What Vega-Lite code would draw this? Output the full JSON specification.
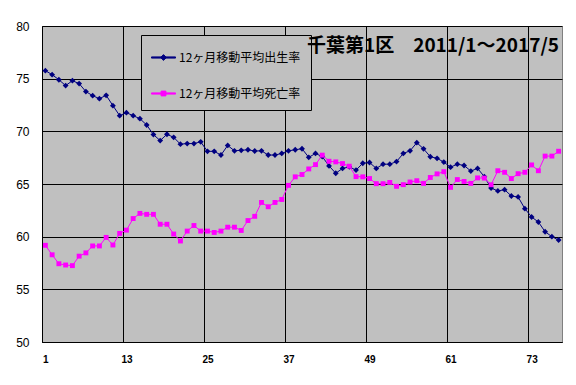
{
  "$schema": "https://vega.github.io/schema/vega-lite/v6.json",
  "width": 520,
  "height": 316,
  "autosize": {"type": "none"},
  "padding": {"left": 42, "top": 26, "right": 14, "bottom": 43},
  "background": "#ffffff",
  "title": {
    "text": "千葉第1区　2011/1～2017/5",
    "anchor": "end",
    "orient": "top",
    "offset": -29,
    "baseline": "alphabetic",
    "font": "Noto Sans CJK JP",
    "fontSize": 19,
    "fontWeight": "bold",
    "color": "#000000",
    "dx": -3,
    "dy": 22
  },
  "config": {
    "view": {"fill": "#c0c0c0", "stroke": "#808080", "strokeWidth": 1},
    "axis": {
      "gridColor": "#000000",
      "gridOpacity": 1,
      "gridWidth": 1,
      "domainColor": "#000000",
      "domainWidth": 1,
      "ticks": false,
      "labelColor": "#000000",
      "labelFont": "Liberation Sans",
      "title": null
    }
  },
  "data": {
    "values": [
      {"m":1,"s":"12ヶ月移動平均出生率","v":75.76},{"m":2,"s":"12ヶ月移動平均出生率","v":75.38},{"m":3,"s":"12ヶ月移動平均出生率","v":74.9},{"m":4,"s":"12ヶ月移動平均出生率","v":74.34},{"m":5,"s":"12ヶ月移動平均出生率","v":74.81},{"m":6,"s":"12ヶ月移動平均出生率","v":74.53},{"m":7,"s":"12ヶ月移動平均出生率","v":73.77},{"m":8,"s":"12ヶ月移動平均出生率","v":73.39},{"m":9,"s":"12ヶ月移動平均出生率","v":73.1},{"m":10,"s":"12ヶ月移動平均出生率","v":73.42},
      {"m":11,"s":"12ヶ月移動平均出生率","v":72.44},{"m":12,"s":"12ヶ月移動平均出生率","v":71.49},{"m":13,"s":"12ヶ月移動平均出生率","v":71.77},{"m":14,"s":"12ヶ月移動平均出生率","v":71.49},{"m":15,"s":"12ヶ月移動平均出生率","v":71.2},{"m":16,"s":"12ヶ月移動平均出生率","v":70.6},{"m":17,"s":"12ヶ月移動平均出生率","v":69.69},{"m":18,"s":"12ヶ月移動平均出生率","v":69.12},{"m":19,"s":"12ヶ月移動平均出生率","v":69.72},{"m":20,"s":"12ヶ月移動平均出生率","v":69.43},
      {"m":21,"s":"12ヶ月移動平均出生率","v":68.78},{"m":22,"s":"12ヶ月移動平均出生率","v":68.84},{"m":23,"s":"12ヶ月移動平均出生率","v":68.84},{"m":24,"s":"12ヶ月移動平均出生率","v":69.0},{"m":25,"s":"12ヶ月移動平均出生率","v":68.1},{"m":26,"s":"12ヶ月移動平均出生率","v":68.1},{"m":27,"s":"12ヶ月移動平均出生率","v":67.75},{"m":28,"s":"12ヶ月移動平均出生率","v":68.66},{"m":29,"s":"12ヶ月移動平均出生率","v":68.15},{"m":30,"s":"12ヶ月移動平均出生率","v":68.2},
      {"m":31,"s":"12ヶ月移動平均出生率","v":68.25},{"m":32,"s":"12ヶ月移動平均出生率","v":68.13},{"m":33,"s":"12ヶ月移動平均出生率","v":68.15},{"m":34,"s":"12ヶ月移動平均出生率","v":67.75},{"m":35,"s":"12ヶ月移動平均出生率","v":67.75},{"m":36,"s":"12ヶ月移動平均出生率","v":67.9},{"m":37,"s":"12ヶ月移動平均出生率","v":68.15},{"m":38,"s":"12ヶ月移動平均出生率","v":68.25},{"m":39,"s":"12ヶ月移動平均出生率","v":68.35},{"m":40,"s":"12ヶ月移動平均出生率","v":67.53},
      {"m":41,"s":"12ヶ月移動平均出生率","v":67.9},{"m":42,"s":"12ヶ月移動平均出生率","v":67.6},{"m":43,"s":"12ヶ月移動平均出生率","v":66.72},{"m":44,"s":"12ヶ月移動平均出生率","v":66.02},{"m":45,"s":"12ヶ月移動平均出生率","v":66.48},{"m":46,"s":"12ヶ月移動平均出生率","v":66.63},{"m":47,"s":"12ヶ月移動平均出生率","v":66.32},{"m":48,"s":"12ヶ月移動平均出生率","v":66.97},{"m":49,"s":"12ヶ月移動平均出生率","v":67.04},{"m":50,"s":"12ヶ月移動平均出生率","v":66.48},
      {"m":51,"s":"12ヶ月移動平均出生率","v":66.88},{"m":52,"s":"12ヶ月移動平均出生率","v":66.88},{"m":53,"s":"12ヶ月移動平均出生率","v":67.13},{"m":54,"s":"12ヶ月移動平均出生率","v":67.9},{"m":55,"s":"12ヶ月移動平均出生率","v":68.15},{"m":56,"s":"12ヶ月移動平均出生率","v":68.92},{"m":57,"s":"12ヶ月移動平均出生率","v":68.34},{"m":58,"s":"12ヶ月移動平均出生率","v":67.59},{"m":59,"s":"12ヶ月移動平均出生率","v":67.44},{"m":60,"s":"12ヶ月移動平均出生率","v":67.08},
      {"m":61,"s":"12ヶ月移動平均出生率","v":66.6},{"m":62,"s":"12ヶ月移動平均出生率","v":66.88},{"m":63,"s":"12ヶ月移動平均出生率","v":66.76},{"m":64,"s":"12ヶ月移動平均出生率","v":66.23},{"m":65,"s":"12ヶ月移動平均出生率","v":66.48},{"m":66,"s":"12ヶ月移動平均出生率","v":65.7},{"m":67,"s":"12ヶ月移動平均出生率","v":64.62},{"m":68,"s":"12ヶ月移動平均出生率","v":64.34},{"m":69,"s":"12ヶ月移動平均出生率","v":64.46},{"m":70,"s":"12ヶ月移動平均出生率","v":63.86},
      {"m":71,"s":"12ヶ月移動平均出生率","v":63.77},{"m":72,"s":"12ヶ月移動平均出生率","v":62.66},{"m":73,"s":"12ヶ月移動平均出生率","v":61.87},{"m":74,"s":"12ヶ月移動平均出生率","v":61.39},{"m":75,"s":"12ヶ月移動平均出生率","v":60.47},{"m":76,"s":"12ヶ月移動平均出生率","v":60.0},{"m":77,"s":"12ヶ月移動平均出生率","v":59.68},
      {"m":1,"s":"12ヶ月移動平均死亡率","v":59.18},{"m":2,"s":"12ヶ月移動平均死亡率","v":58.28},{"m":3,"s":"12ヶ月移動平均死亡率","v":57.43},{"m":4,"s":"12ヶ月移動平均死亡率","v":57.31},{"m":5,"s":"12ヶ月移動平均死亡率","v":57.25},{"m":6,"s":"12ヶ月移動平均死亡率","v":58.15},{"m":7,"s":"12ヶ月移動平均死亡率","v":58.46},{"m":8,"s":"12ヶ月移動平均死亡率","v":59.12},{"m":9,"s":"12ヶ月移動平均死亡率","v":59.12},{"m":10,"s":"12ヶ月移動平均死亡率","v":59.93},
      {"m":11,"s":"12ヶ月移動平均死亡率","v":59.21},{"m":12,"s":"12ヶ月移動平均死亡率","v":60.31},{"m":13,"s":"12ヶ月移動平均死亡率","v":60.62},{"m":14,"s":"12ヶ月移動平均死亡率","v":61.72},{"m":15,"s":"12ヶ月移動平均死亡率","v":62.21},{"m":16,"s":"12ヶ月移動平均死亡率","v":62.12},{"m":17,"s":"12ヶ月移動平均死亡率","v":62.12},{"m":18,"s":"12ヶ月移動平均死亡率","v":61.18},{"m":19,"s":"12ヶ月移動平均死亡率","v":61.18},{"m":20,"s":"12ヶ月移動平均死亡率","v":60.25},
      {"m":21,"s":"12ヶ月移動平均死亡率","v":59.59},{"m":22,"s":"12ヶ月移動平均死亡率","v":60.53},{"m":23,"s":"12ヶ月移動平均死亡率","v":61.06},{"m":24,"s":"12ヶ月移動平均死亡率","v":60.53},{"m":25,"s":"12ヶ月移動平均死亡率","v":60.53},{"m":26,"s":"12ヶ月移動平均死亡率","v":60.4},{"m":27,"s":"12ヶ月移動平均死亡率","v":60.53},{"m":28,"s":"12ヶ月移動平均死亡率","v":60.9},{"m":29,"s":"12ヶ月移動平均死亡率","v":60.9},{"m":30,"s":"12ヶ月移動平均死亡率","v":60.59},
      {"m":31,"s":"12ヶ月移動平均死亡率","v":61.53},{"m":32,"s":"12ヶ月移動平均死亡率","v":61.93},{"m":33,"s":"12ヶ月移動平均死亡率","v":63.25},{"m":34,"s":"12ヶ月移動平均死亡率","v":62.84},{"m":35,"s":"12ヶ月移動平均死亡率","v":63.25},{"m":36,"s":"12ヶ月移動平均死亡率","v":63.53},{"m":37,"s":"12ヶ月移動平均死亡率","v":64.87},{"m":38,"s":"12ヶ月移動平均死亡率","v":65.68},{"m":39,"s":"12ヶ月移動平均死亡率","v":65.9},{"m":40,"s":"12ヶ月移動平均死亡率","v":66.43},
      {"m":41,"s":"12ヶ月移動平均死亡率","v":66.84},{"m":42,"s":"12ヶ月移動平均死亡率","v":67.74},{"m":43,"s":"12ヶ月移動平均死亡率","v":67.16},{"m":44,"s":"12ヶ月移動平均死亡率","v":67.1},{"m":45,"s":"12ヶ月移動平均死亡率","v":66.94},{"m":46,"s":"12ヶ月移動平均死亡率","v":66.69},{"m":47,"s":"12ヶ月移動平均死亡率","v":65.7},{"m":48,"s":"12ヶ月移動平均死亡率","v":65.68},{"m":49,"s":"12ヶ月移動平均死亡率","v":65.52},{"m":50,"s":"12ヶ月移動平均死亡率","v":65.03},
      {"m":51,"s":"12ヶ月移動平均死亡率","v":65.03},{"m":52,"s":"12ヶ月移動平均死亡率","v":65.15},{"m":53,"s":"12ヶ月移動平均死亡率","v":64.78},{"m":54,"s":"12ヶ月移動平均死亡率","v":64.94},{"m":55,"s":"12ヶ月移動平均死亡率","v":65.19},{"m":56,"s":"12ヶ月移動平均死亡率","v":65.31},{"m":57,"s":"12ヶ月移動平均死亡率","v":65.06},{"m":58,"s":"12ヶ月移動平均死亡率","v":65.62},{"m":59,"s":"12ヶ月移動平均死亡率","v":65.96},{"m":60,"s":"12ヶ月移動平均死亡率","v":66.17},
      {"m":61,"s":"12ヶ月移動平均死亡率","v":64.68},{"m":62,"s":"12ヶ月移動平均死亡率","v":65.42},{"m":63,"s":"12ヶ月移動平均死亡率","v":65.24},{"m":64,"s":"12ヶ月移動平均死亡率","v":65.06},{"m":65,"s":"12ヶ月移動平均死亡率","v":65.58},{"m":66,"s":"12ヶ月移動平均死亡率","v":65.56},{"m":67,"s":"12ヶ月移動平均死亡率","v":64.93},{"m":68,"s":"12ヶ月移動平均死亡率","v":66.26},{"m":69,"s":"12ヶ月移動平均死亡率","v":66.11},{"m":70,"s":"12ヶ月移動平均死亡率","v":65.52},
      {"m":71,"s":"12ヶ月移動平均死亡率","v":65.98},{"m":72,"s":"12ヶ月移動平均死亡率","v":66.11},{"m":73,"s":"12ヶ月移動平均死亡率","v":66.81},{"m":74,"s":"12ヶ月移動平均死亡率","v":66.26},{"m":75,"s":"12ヶ月移動平均死亡率","v":67.65},{"m":76,"s":"12ヶ月移動平均死亡率","v":67.65},{"m":77,"s":"12ヶ月移動平均死亡率","v":68.11}
    ]
  },
  "encoding": {
    "x": {
      "field": "m",
      "type": "quantitative",
      "scale": {"domain": [0.5, 77.5], "nice": false, "zero": false},
      "axis": {
        "values": [0.5, 12.5, 24.5, 36.5, 48.5, 60.5, 72.5],
        "labelExpr": "datum.value + 0.5",
        "labelOffset": 3.4,
        "labelFontSize": 10,
        "labelFontWeight": "bold",
        "labelPadding": 12,
        "labelFlush": false,
        "grid": true
      }
    },
    "y": {
      "field": "v",
      "type": "quantitative",
      "scale": {"domain": [50, 80], "nice": false, "zero": false},
      "axis": {
        "values": [50, 55, 60, 65, 70, 75, 80],
        "labelFontSize": 12,
        "labelPadding": 13,
        "grid": true
      }
    }
  },
  "layer": [
    {
      "mark": {"type": "line", "strokeWidth": 1},
      "encoding": {
        "color": {
          "field": "s",
          "type": "nominal",
          "scale": {
            "domain": ["12ヶ月移動平均出生率", "12ヶ月移動平均死亡率"],
            "range": ["#000080", "#ff00ff"]
          },
          "legend": {
            "title": null,
            "orient": "none",
            "legendX": 99,
            "legendY": 9,
            "fillColor": "#c0c0c0",
            "strokeColor": "#000000",
            "padding": 10,
            "rowPadding": 17,
            "symbolSize": 576,
            "symbolStrokeWidth": 1,
            "labelFont": "Noto Sans CJK JP",
            "labelFontSize": 12,
            "labelColor": "#000000",
            "labelOffset": 3,
            "labelLimit": 300,
            "encoding": {
              "symbols": {
                "shape": {"value": {"expr": "datum.value === '12ヶ月移動平均出生率' ? 'M-1,-0.05L1,-0.05L1,0.05L-1,0.05ZM-0.24,0L0,-0.24L0.24,0L0,0.24Z' : 'M-1,-0.05L1,-0.05L1,0.05L-1,0.05ZM-0.2,-0.2L0.2,-0.2L0.2,0.2L-0.2,0.2Z'"}},
                "size": {"value": 576},
                "fill": {"value": {"expr": "datum.value === '12ヶ月移動平均出生率' ? '#000080' : '#ff00ff'"}},
                "fillOpacity": {"value": 1},
                "opacity": {"value": 1}
              }
            }
          }
        }
      }
    },
    {
      "transform": [{"filter": "datum.s === '12ヶ月移動平均出生率'"}],
      "mark": {"type": "point", "filled": true, "opacity": 1, "strokeWidth": 0, "shape": "diamond", "size": 34, "color": "#000080"}
    },
    {
      "transform": [{"filter": "datum.s === '12ヶ月移動平均死亡率'"}],
      "mark": {"type": "point", "filled": true, "opacity": 1, "strokeWidth": 0, "shape": "square", "size": 24, "color": "#ff00ff"}
    }
  ]
}
